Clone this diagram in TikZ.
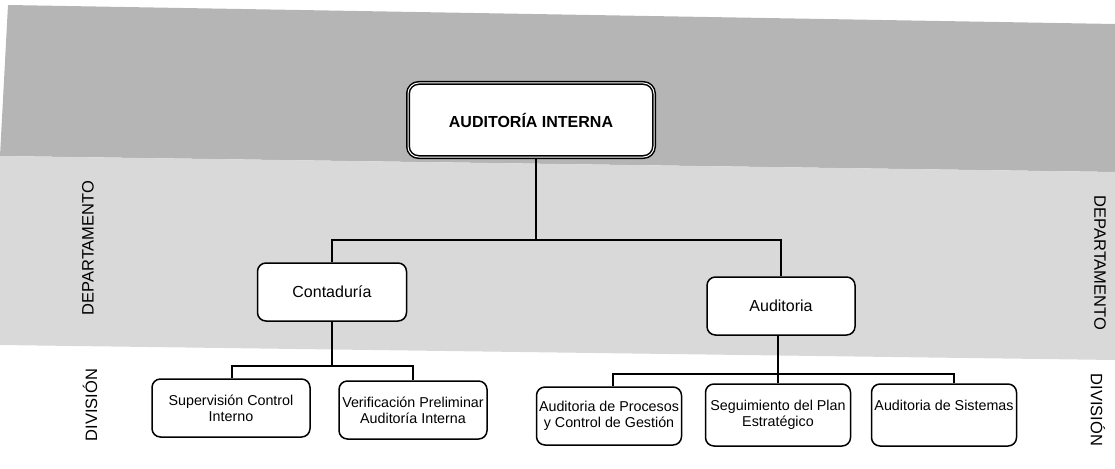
\documentclass[tikz,border=0pt]{standalone}
\usepackage{fontspec}
\setmainfont{Liberation Sans}
\usetikzlibrary{positioning}
\tikzset{orgbox/.style = {draw, fill=white, rounded corners=1.6ex,
            line width=1.5pt, align=center, inner sep=1pt,
            font=\fontsize{14.3}{16}\selectfont},
    headbox/.style = {orgbox, double, double distance=1pt,
            line width=1.5pt, rounded corners=2ex,
            font=\fontsize{16}{18}\selectfont\bfseries},
    deptbox/.style = {orgbox, font=\fontsize{16}{18}\selectfont},
    sidelabel/.style = {font=\fontsize{16.5}{18}\selectfont},
    link/.style = {line width=1.3pt}}

\begin{document}
\begin{tikzpicture}[x=1pt, y=-1pt]
\useasboundingbox (0,0) rectangle (1115,468);
% shaded bands
\fill[gray!58] (8,5) -- (1115,24) -- (1115,172) -- (0,156) -- cycle;
\fill[gray!30] (0,156) -- (1115,172) -- (1115,360) -- (0,345) -- cycle;

% nodes
\node[headbox, minimum width=246pt, minimum height=74pt] (ai) at (531,120) {AUDITORÍA INTERNA};
\node[deptbox, minimum width=149pt, minimum height=58pt] (cont) at (332,292) {Contaduría};
\node[deptbox, minimum width=148pt, minimum height=58pt] (aud) at (781,306) {Auditoria};

\node[orgbox, minimum width=158pt, minimum height=58pt] (sup) at (231,408) {Supervisión Control\\Interno};
\node[orgbox, minimum width=148pt, minimum height=58pt] (ver) at (413,410) {Verificación Preliminar\\Auditoría Interna};
\node[orgbox, minimum width=145pt, minimum height=58pt] (proc) at (609,416) {Auditoria de Procesos\\y Control de Gestión};
\node[orgbox, minimum width=145pt, minimum height=62pt] (seg) at (778,415) {Seguimiento del Plan\\Estratégico};
\node[orgbox, minimum width=145pt, minimum height=62pt] (sis) at (944,415) {Auditoria de Sistemas\\[4pt]~};

% side labels
\node[sidelabel, rotate=90] (depL) at (88,248) {DEPARTAMENTO};
\node[sidelabel, rotate=-90] (depR) at (1100,263) {DEPARTAMENTO};
\node[sidelabel, rotate=90] (divL) at (90,405) {DIVISIÓN};
\node[sidelabel, rotate=-90] (divR) at (1098,410) {DIVISIÓN};

% connectors
\coordinate (ai-j) at (536,240);
\draw[link] (ai.south -| ai-j) -- (ai-j);
\draw[link] (cont.north) |- (ai-j) -| (aud.north);
\coordinate (cont-j) at (332,366);
\draw[link] (cont.south) -- (cont-j);
\draw[link] (sup.north -| 232,0) |- (cont-j) -| (ver.north);
\coordinate (aud-j) at (778,374);
\draw[link] (aud.south -| aud-j) -- (seg.north);
\draw[link] (proc.north -| 613,0) |- (aud-j) -| (sis.north -| 954,0);
\end{tikzpicture}
\end{document}
